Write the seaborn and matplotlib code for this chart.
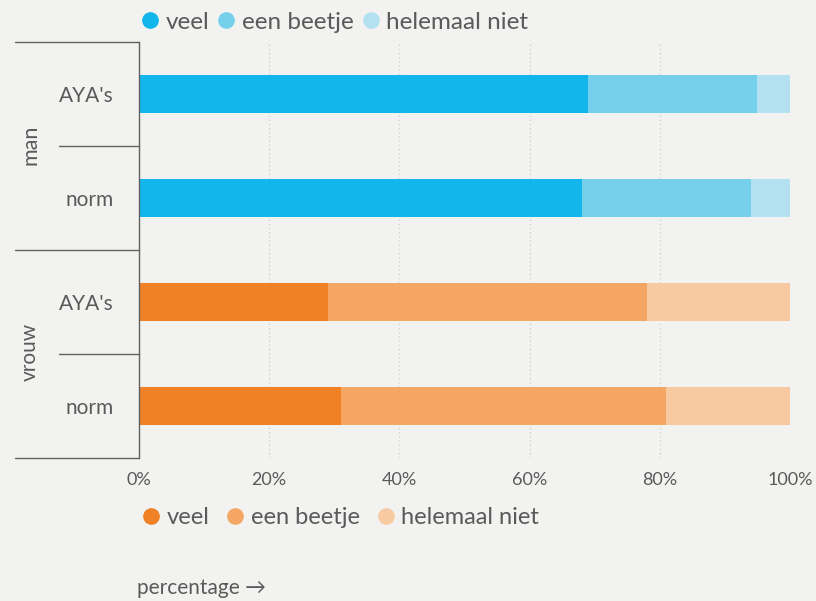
import numpy as np
import pandas as pd
import matplotlib
matplotlib.use("Agg")
import matplotlib.pyplot as plt
from matplotlib.lines import Line2D
import seaborn as sb

# data
rows = ["man_aya", "man_norm", "vrouw_aya", "vrouw_norm"]
row_labels = ["AYA's", "norm", "AYA's", "norm"]
groups = ["man", "vrouw"]
veel = [69, 68, 29, 31]
een_beetje = [26, 26, 49, 50]
helemaal_niet = [5, 6, 22, 19]
answers = ["veel", "een beetje", "helemaal niet"]
x_ticks = [0, 20, 40, 60, 80, 100]

blues = ["#13b6eb", "#76d0ec", "#b4e1f0"]
oranges = ["#f08124", "#f5a662", "#f7caa2"]
bg = "#f2f2f0"
txt = "#5a5a5a"

sb.set_theme(style="white")
plt.rcParams["font.family"] = ["Lato", "DejaVu Sans"]
plt.rcParams["figure.facecolor"] = bg
plt.rcParams["axes.facecolor"] = bg

df = pd.DataFrame({"row": rows, "veel": veel, "een beetje": een_beetje,
                   "helemaal niet": helemaal_niet})
df["c1"] = df["veel"]
df["c2"] = df["veel"] + df["een beetje"]
df["c3"] = df["c2"] + df["helemaal niet"]

fig = plt.figure(figsize=(8.16, 6.01), dpi=100)
ax = fig.add_axes([139/816, 1-458/601, 651/816, 416/601])

# stacked: draw cumulative totals, longest first
for i, col in enumerate(["c3", "c2", "c1"]):
    k = 2 - i
    pal = {r: (blues[k] if r.startswith("man") else oranges[k]) for r in rows}
    sb.barplot(data=df, x=col, y="row", hue="row", palette=pal, legend=False,
               orient="h", width=0.36, linewidth=0, saturation=1, ax=ax)

ax.set_xlim(0, 100)
ax.set_ylim(3.5, -0.5)
ax.set_xticks(x_ticks)
ax.set_xticklabels([f"{t}%" for t in x_ticks], color=txt, fontsize=13)
ax.set_yticks(range(len(rows)))
ax.set_yticklabels(row_labels, color=txt, fontsize=15)
ax.tick_params(axis="y", length=0, pad=18)
ax.tick_params(axis="x", length=0, pad=10)
ax.set_xlabel("")
ax.set_ylabel("")
ax.xaxis.grid(True, linestyle=(0, (1, 2)), color="#d2d2d2", linewidth=1)
ax.set_axisbelow(True)
for s in ["top", "right", "bottom"]:
    ax.spines[s].set_visible(False)
ax.spines["left"].set_color("#606060")
ax.spines["left"].set_linewidth(1)

# group brackets
tr = ax.get_yaxis_transform()
for y in [-0.5, 1.5, 3.5]:
    ax.plot([-0.19, 0], [y, y], transform=tr, color="#606060", lw=1, clip_on=False)
for y in [0.5, 2.5]:
    ax.plot([-0.123, 0], [y, y], transform=tr, color="#606060", lw=1, clip_on=False)
fig.text(30/816, 1-145/601, groups[0], rotation=90, ha="center", va="center",
         color=txt, fontsize=15.5)
fig.text(30/816, 1-352/601, groups[1], rotation=90, ha="center", va="center",
         color=txt, fontsize=15)

def legend_handles(colors):
    return [Line2D([], [], marker="o", linestyle="", markersize=11,
                   markerfacecolor=c, markeredgecolor=c, label=a)
            for c, a in zip(colors, answers)]

fig.legend(handles=legend_handles(blues), loc="center left",
           bbox_to_anchor=(141/816, 1-22/601), ncol=3, frameon=False,
           fontsize=17.5, handletextpad=0.3, columnspacing=0.35,
           labelcolor=txt, handlelength=0.7, borderpad=0, borderaxespad=0)
fig.legend(handles=legend_handles(oranges), loc="center left",
           bbox_to_anchor=(143/816, 1-518/601), ncol=3, frameon=False,
           fontsize=17, handletextpad=0.3, columnspacing=0.75,
           labelcolor=txt, handlelength=0.7, borderpad=0, borderaxespad=0)

fig.text(137/816, 1-588/601, "percentage \u2192", ha="left", va="center",
         color=txt, fontsize=15)

fig.savefig("out.png", dpi=100, facecolor=bg)
